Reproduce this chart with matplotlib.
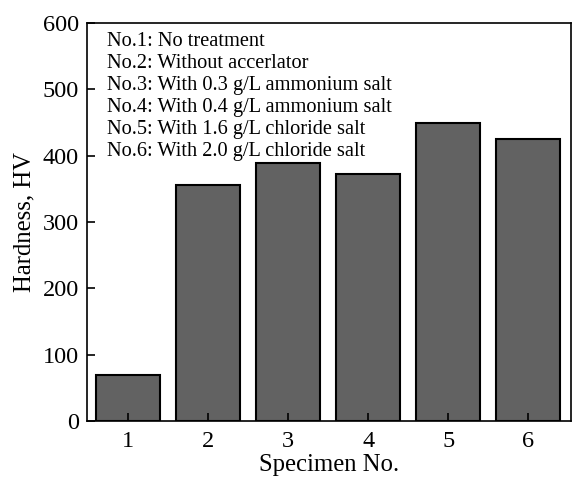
import numpy as np
import matplotlib.pyplot as plt

plt.rcParams['font.family'] = 'Liberation Serif'

especimen = [1, 2, 3, 4, 5, 6]
dureza = [69, 356, 389, 372, 449, 425]
leyenda = [
    "No.1: No treatment",
    "No.2: Without accerlator",
    "No.3: With 0.3 g/L ammonium salt",
    "No.4: With 0.4 g/L ammonium salt",
    "No.5: With 1.6 g/L chloride salt",
    "No.6: With 2.0 g/L chloride salt",
]

fig = plt.figure(figsize=(5.74, 4.82), dpi=100)
ax = fig.add_axes([0.1516, 0.1266, 0.8427, 0.8257])

ax.bar(especimen, dureza, width=0.8, color="#626262", edgecolor="black", linewidth=1.5)

ax.set_xlim(0.485, 6.53)
ax.set_ylim(0, 600)
ax.set_xticks(especimen)
ax.set_yticks(range(0, 601, 100))
ax.tick_params(direction="in", length=6, width=1.2, labelsize=17.5, pad=6)
ax.tick_params(axis="x", pad=7)
for s in ax.spines.values():
    s.set_linewidth(1.2)

ax.set_xlabel("Specimen No.", fontsize=17.8, labelpad=2)
ax.set_ylabel("Hardness, HV", fontsize=17.8, labelpad=5)

ax.text(0.041, 0.978, "\n".join(leyenda), transform=ax.transAxes,
        fontsize=14.7, va="top", ha="left", linespacing=1.215)

fig.savefig("out.png", dpi=100)
